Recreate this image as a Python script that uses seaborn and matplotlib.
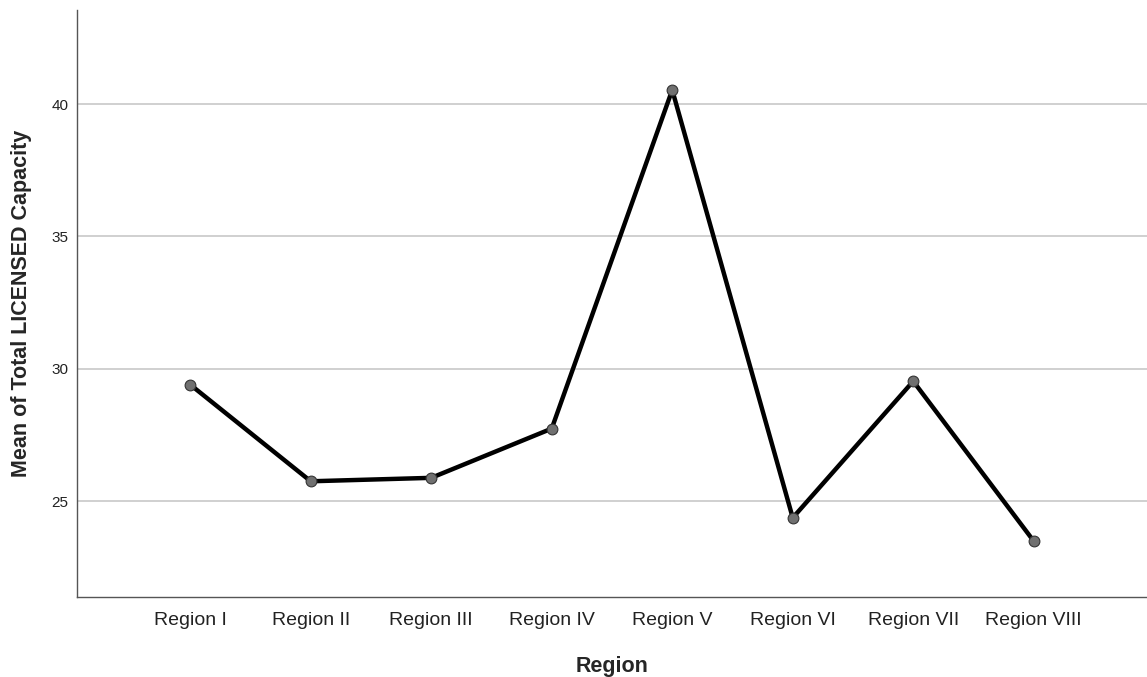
import matplotlib
matplotlib.use("Agg")
import matplotlib.pyplot as plt
import seaborn as sns
import pandas as pd

regions = ['Region I', 'Region II', 'Region III', 'Region IV',
           'Region V', 'Region VI', 'Region VII', 'Region VIII']
mean_capacity = [29.40, 25.75, 25.88, 27.74, 40.53, 24.37, 29.53, 23.49]
y_ticks = [25, 30, 35, 40]

df = pd.DataFrame({'Region': regions, 'Mean': mean_capacity})

sns.set_style('white')
plt.rcParams['font.family'] = ['Liberation Sans', 'DejaVu Sans']

fig = plt.figure(figsize=(11.47, 6.77), dpi=100)
ax = fig.add_axes([0.0671, 0.1182, 0.9329, 0.867])

ax.set_axisbelow(True)
ax.grid(axis='y', color='#c8c8c8', linewidth=1.2)

sns.lineplot(data=df, x='Region', y='Mean', color='black', linewidth=3.2,
             sort=False, ax=ax, zorder=3)
sns.scatterplot(data=df, x='Region', y='Mean', color='#707070', s=60,
                edgecolor='#333333', linewidth=0.8, ax=ax, zorder=4)

ax.set_xlim(-0.94, 7.94)
ax.set_ylim(21.38, 43.55)
ax.set_yticks(y_ticks)
ax.tick_params(axis='y', length=0, pad=6, labelsize=11, labelcolor='#222222')
ax.tick_params(axis='x', length=0, pad=11, labelsize=14, labelcolor='#222222')

for side in ['top', 'right']:
    ax.spines[side].set_visible(False)
for side in ['left', 'bottom']:
    ax.spines[side].set_color('#555555')
    ax.spines[side].set_linewidth(1.0)

ax.set_xlabel('Region', fontsize=15.5, fontweight='bold', labelpad=19)
ax.set_ylabel('Mean of Total LICENSED Capacity', fontsize=15.5,
              fontweight='bold', labelpad=14)

fig.savefig('out.png', dpi=100)
